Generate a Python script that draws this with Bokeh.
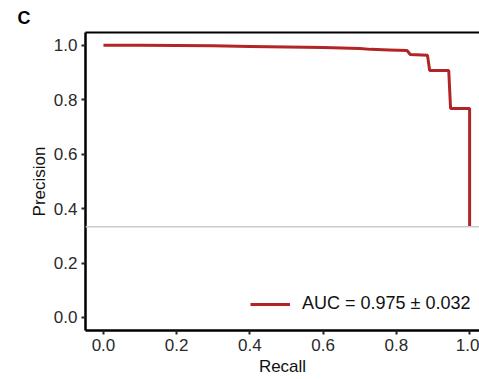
from bokeh.plotting import figure
from bokeh.models import LinearAxis, FixedTicker, Span, Legend, LegendItem, Range1d, Title
from bokeh.embed import file_html
from bokeh.resources import INLINE

# Data (step PR curve)
recall = [0.0, 0.10, 0.20, 0.30, 0.40, 0.50, 0.60, 0.65, 0.70, 0.73, 0.78, 0.829, 0.838, 0.885, 0.891, 0.943, 0.948, 1.0, 1.0]
precision = [1.0, 1.0, 0.999, 0.998, 0.996, 0.994, 0.992, 0.990, 0.988, 0.985, 0.983, 0.981, 0.966, 0.963, 0.907, 0.907, 0.768, 0.768, 0.333]
baseline = 0.333
legend_label = "AUC = 0.975 \u00b1 0.032"
ticks = [0.0, 0.2, 0.4, 0.6, 0.8, 1.0]
tick_labels = ["0.0", "0.2", "0.4", "0.6", "0.8", "1.0"]

FONT = "Liberation Sans"
RED = "#B22426"

p = figure(width=479, height=379, output_backend="svg", toolbar_location=None,
           x_range=Range1d(-0.049, 1.027), y_range=Range1d(-0.048, 1.047),
           min_border_left=85, min_border_right=0, min_border_top=23, min_border_bottom=49)
p.outline_line_color = None
p.xgrid.visible = False
p.ygrid.visible = False
p.background_fill_color = "white"

# baseline
p.add_layout(Span(location=baseline, dimension="width", line_color="#cccccc", line_width=1.5))

r = p.line(recall, precision, line_color=RED, line_width=3)

labels = dict(zip(ticks, tick_labels))
for ax in (p.xaxis[0], p.yaxis[0]):
    ax.ticker = FixedTicker(ticks=ticks)
    ax.major_label_overrides = labels
    ax.axis_line_width = 2.5
    ax.axis_line_color = "black"
    ax.major_tick_line_width = 2
    ax.major_tick_line_color = "#222222"
    ax.major_tick_out = 4
    ax.major_tick_in = 0
    ax.minor_tick_line_color = None
    ax.major_label_text_font = FONT
    ax.major_label_text_font_size = "17px"
    ax.major_label_text_color = "#2a2a2a"
    ax.axis_label_text_font = FONT
    ax.axis_label_text_font_size = "17px"
    ax.axis_label_text_font_style = "normal"
    ax.axis_label_text_color = "#111111"

p.xaxis.axis_label = "Recall"
p.yaxis.axis_label = "Precision"
p.xaxis.major_label_standoff = 4
p.yaxis.major_label_standoff = 4
p.xaxis.axis_label_standoff = 3
p.yaxis.axis_label_standoff = 2

# top border
top = LinearAxis(ticker=FixedTicker(ticks=[]), axis_line_width=2, axis_line_color="black",
                 major_tick_line_color=None, minor_tick_line_color=None,
                 major_label_text_font_size="0px")
p.add_layout(top, "above")

t = Title(text="C", text_font=FONT, text_font_size="18px", text_font_style="bold",
          align="left", offset=-68, text_color="black")
p.add_layout(t, "above")

legend = Legend(items=[LegendItem(label=legend_label, renderers=[r])],
                location=(165, 16), border_line_color=None, background_fill_alpha=0,
                padding=0, margin=0, glyph_width=40, label_standoff=12,
                label_text_font=FONT, label_text_font_size="18px", label_text_color="#111111")
p.add_layout(legend)

open("out.html", "w").write(file_html(p, INLINE))
